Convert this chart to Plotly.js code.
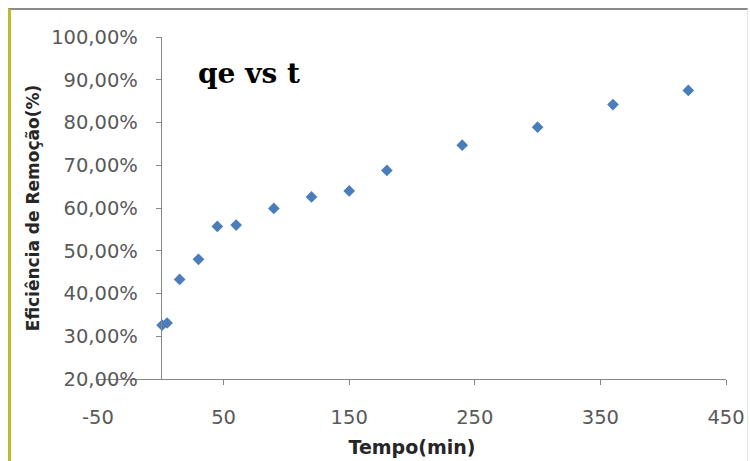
<!DOCTYPE html>
<html>
<head>
<meta charset="utf-8">
<script src="https://cdn.plot.ly/plotly-3.0.1.min.js"></script>
<style>
  html, body { margin: 0; padding: 0; background: #ffffff; }
  #chart { width: 750px; height: 461px; position: absolute; left: 0; top: 0; }
  #frame { position: absolute; left: 8px; top: 8px; width: 740px; height: 460px;
           border-top: 2px solid #8a8a8a; border-left: 3px solid #bcbc2a;
           border-right: 1px solid #e6e6e6; pointer-events: none; box-sizing: border-box; }
</style>
</head>
<body>
<div id="chart"></div>
<div id="frame"></div>
<script>
// Tempo (min)
const tempo = [1, 5, 15, 30, 45, 60, 90, 120, 150, 180, 240, 300, 360, 420];
// Eficiência de Remoção (fraction)
const eficiencia = [0.326, 0.331, 0.433, 0.480, 0.557, 0.560, 0.599, 0.626, 0.640, 0.688, 0.747, 0.789, 0.842, 0.875];
// x tick values and labels (plain hyphen, as in the original)
const xTickVals = [-50, 50, 150, 250, 350, 450];
const xTickText = ['-50', '50', '150', '250', '350', '450'];
const chartTitle = 'qe vs t';
const xTitle = 'Tempo(min)';
const yTitle = 'Eficiência de Remoção(%)';

const tickFont = { family: 'DejaVu Sans', size: 19.5, color: '#595959' };
const yTitleFont = { family: 'DejaVu Sans', size: 17, color: '#262626', weight: 'bold' };
const xTitleFont = { family: 'DejaVu Sans', size: 19, color: '#262626', weight: 'bold' };

const trace = {
  x: tempo,
  y: eficiencia,
  type: 'scatter',
  mode: 'markers',
  marker: { symbol: 'diamond', size: 9, color: '#4a7ebb' },
  hoverinfo: 'x+y'
};

const layout = {
  width: 750,
  height: 461,
  margin: { l: 98, r: 24, t: 37, b: 82 },
  paper_bgcolor: '#ffffff',
  plot_bgcolor: '#ffffff',
  separators: ',.',
  showlegend: false,
  xaxis: {
    range: [-50, 450],
    tickmode: 'array',
    tickvals: xTickVals,
    ticktext: xTickText,
    showgrid: false,
    zeroline: false,
    showline: true,
    linecolor: '#868686',
    linewidth: 1,
    ticks: 'outside',
    ticklen: 5,
    tickcolor: '#868686',
    tickfont: tickFont,
    ticklabelstandoff: 16,
    title: { text: xTitle, font: xTitleFont, standoff: 12 }
  },
  yaxis: {
    range: [0.2, 1.0],
    dtick: 0.1,
    tickformat: '.2%',
    anchor: 'free',
    position: 0.1,
    showgrid: false,
    zeroline: false,
    showline: true,
    linecolor: '#868686',
    linewidth: 1,
    ticks: 'outside',
    ticklen: 5,
    tickcolor: '#868686',
    tickfont: tickFont,
    ticklabelstandoff: 14,
    title: { text: yTitle, font: yTitleFont, standoff: 6 }
  },
  annotations: [{
    text: '<b>' + chartTitle + '</b>',
    xref: 'paper', yref: 'paper',
    x: 0.156, y: 0.893,
    xanchor: 'left', yanchor: 'middle',
    showarrow: false,
    font: { family: 'DejaVu Serif', size: 28, color: '#000000' }
  }]
};

Plotly.newPlot('chart', [trace], layout, { displayModeBar: false, staticPlot: true });
</script>
</body>
</html>
